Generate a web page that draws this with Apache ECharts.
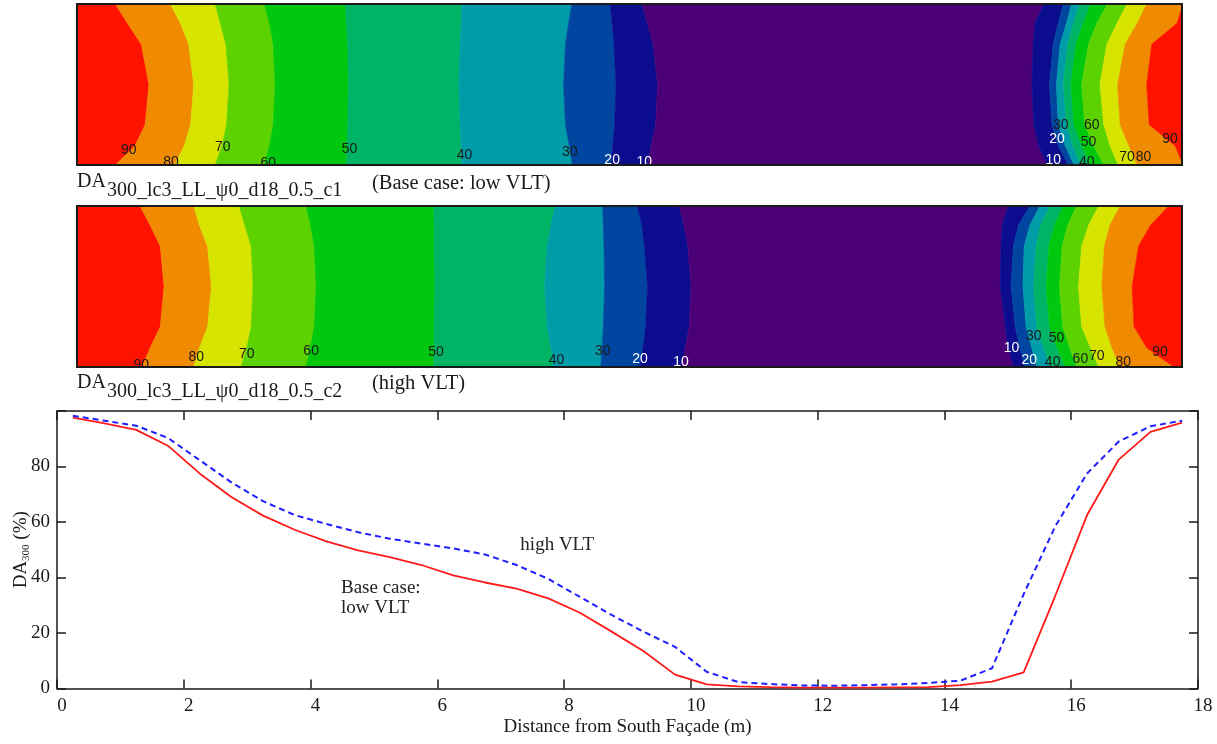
<!DOCTYPE html>
<html>
<head>
<meta charset="utf-8">
<title>DA300 contours and profile</title>
<script src="https://cdn.jsdelivr.net/npm/echarts@6/dist/echarts.min.js"></script>
<style>
  html, body { margin: 0; padding: 0; background: #fff; }
  #chart { width: 1217px; height: 744px; }
</style>
</head>
<body>
<div id="chart"></div>
<script>
// profile along the room (m) and DA300 (%)
const distance = [0.25, 0.75, 1.25, 1.75, 2.25, 2.75, 3.25, 3.75, 4.25, 4.75, 5.25, 5.75,
  6.25, 6.75, 7.25, 7.75, 8.25, 8.75, 9.25, 9.75, 10.25, 10.75, 11.25, 11.75,
  12.25, 12.75, 13.25, 13.75, 14.25, 14.75, 15.25, 15.75, 16.25, 16.75, 17.25, 17.75]
const baseCase = [97.6, 95.5, 93.2, 87.5, 77.5, 69.0, 62.3, 57.2, 53.0, 49.8, 47.3, 44.5,
  40.8, 38.2, 36.0, 32.5, 27.3, 20.5, 13.5, 5.0, 1.5, 0.8, 0.5, 0.3,
  0.3, 0.3, 0.4, 0.5, 1.2, 2.5, 5.8, 33.5, 62.5, 82.5, 92.5, 95.8]
const highVlt = [98.3, 96.5, 94.7, 90.3, 82.3, 74.3, 67.5, 62.5, 59.3, 56.3, 54.0, 52.2,
  50.5, 48.3, 44.5, 39.5, 33.0, 26.5, 20.5, 15.0, 6.0, 2.3, 1.6, 1.1,
  1.0, 1.2, 1.5, 2.0, 2.8, 7.3, 34.0, 58.5, 77.5, 89.0, 94.5, 96.5]

// contour strips: iso-line positions (m) sampled at these depths across the room (0 = top)
const stripRows = [0, 0.12, 0.25, 0.5, 0.75, 0.88, 1]
// band fill from left wall to right wall: >90, 80-90 ... <10 ... 80-90, >90
const bandColors = ['#ff1300', '#f08a00', '#d6e400', '#5cd300', '#00c80e', '#00b466', '#009ca8',
  '#0046a0', '#0c0c8e', '#4b0078', '#0c0c8e', '#0046a0', '#009ca8', '#00b466', '#00c80e',
  '#5cd300', '#d6e400', '#f08a00', '#ff1300']

const c1Bounds = [
  [0.83, 1.02, 1.24, 1.36, 1.30, 1.14, 0.83],
  [1.70, 1.86, 1.99, 2.07, 2.02, 1.92, 1.77],
  [2.41, 2.49, 2.58, 2.63, 2.59, 2.52, 2.41],
  [3.19, 3.27, 3.33, 3.36, 3.33, 3.27, 3.19],
  [4.47, 4.49, 4.51, 4.52, 4.51, 4.50, 4.49],
  [6.32, 6.31, 6.29, 6.27, 6.29, 6.31, 6.32],
  [8.06, 8.01, 7.96, 7.93, 7.96, 8.02, 8.07],
  [8.67, 8.70, 8.73, 8.76, 8.74, 8.71, 8.68],
  [9.17, 9.26, 9.35, 9.42, 9.39, 9.32, 9.26],
  [15.54, 15.40, 15.37, 15.35, 15.38, 15.46, 15.59],
  [15.85, 15.77, 15.69, 15.63, 15.67, 15.77, 15.93],
  [15.98, 15.90, 15.80, 15.74, 15.77, 15.88, 16.02],
  [16.11, 16.01, 15.92, 15.85, 15.90, 16.00, 16.13],
  [16.28, 16.17, 16.05, 15.97, 16.02, 16.14, 16.28],
  [16.55, 16.38, 16.25, 16.14, 16.19, 16.33, 16.49],
  [16.86, 16.70, 16.54, 16.43, 16.49, 16.59, 16.72],
  [17.17, 17.02, 16.83, 16.71, 16.75, 16.89, 17.02],
  [17.75, 17.65, 17.25, 17.17, 17.21, 17.62, 17.75]
]
const c2Bounds = [
  [1.22, 1.38, 1.54, 1.60, 1.54, 1.38, 1.25],
  [2.07, 2.16, 2.29, 2.35, 2.29, 2.16, 2.07],
  [2.79, 2.88, 2.98, 3.01, 2.98, 2.91, 2.82],
  [3.85, 3.92, 3.98, 4.01, 3.98, 3.92, 3.85],
  [5.87, 5.88, 5.88, 5.89, 5.88, 5.88, 5.87],
  [7.80, 7.73, 7.67, 7.63, 7.67, 7.73, 7.77],
  [8.55, 8.56, 8.57, 8.58, 8.56, 8.54, 8.52],
  [9.10, 9.17, 9.21, 9.26, 9.23, 9.19, 9.14],
  [9.76, 9.84, 9.90, 9.95, 9.92, 9.86, 9.79],
  [14.98, 14.88, 14.86, 14.85, 14.93, 14.98, 15.06],
  [15.32, 15.14, 15.06, 15.02, 15.09, 15.16, 15.24],
  [15.48, 15.32, 15.23, 15.21, 15.26, 15.35, 15.43],
  [15.64, 15.49, 15.42, 15.38, 15.43, 15.54, 15.64],
  [15.85, 15.71, 15.62, 15.58, 15.63, 15.75, 15.88],
  [16.06, 15.92, 15.83, 15.79, 15.84, 15.95, 16.06],
  [16.41, 16.25, 16.14, 16.09, 16.14, 16.28, 16.41],
  [16.75, 16.59, 16.50, 16.46, 16.51, 16.62, 16.75],
  [17.52, 17.23, 17.04, 16.94, 16.97, 17.17, 17.60]
]

// contour labels [x, depth, level]
const c1Labels = [[1.04, 0.91, 90], [1.71, 0.98, 80], [2.53, 0.89, 70], [3.25, 0.99, 60],
  [4.54, 0.90, 50], [6.36, 0.94, 40], [8.03, 0.92, 30], [8.70, 0.97, 20], [9.21, 0.98, 10],
  [15.69, 0.97, 10], [15.75, 0.84, 20], [15.81, 0.75, 30], [16.22, 0.98, 40], [16.25, 0.86, 50],
  [16.30, 0.75, 60], [16.86, 0.95, 70], [17.12, 0.95, 80], [17.54, 0.84, 90]]
const c2Labels = [[1.24, 0.99, 90], [2.11, 0.94, 80], [2.91, 0.92, 70], [3.93, 0.90, 60],
  [5.91, 0.91, 50], [7.82, 0.96, 40], [8.55, 0.90, 30], [9.14, 0.95, 20], [9.79, 0.97, 10],
  [15.03, 0.88, 10], [15.31, 0.96, 20], [15.38, 0.81, 30], [15.68, 0.97, 40], [15.74, 0.82, 50],
  [16.12, 0.95, 60], [16.38, 0.93, 70], [16.80, 0.97, 80], [17.38, 0.91, 90]]

// curve annotations [x, DA, text]
const notes = [[7.31, 51.7, 'high VLT'], [4.48, 32.6, 'Base case:\nlow VLT']]

const serif = '"Liberation Serif", "Times New Roman", serif'
const ink = '#1a1a1a'

function bandSeries (idx, bounds) {
  return {
    type: 'custom',
    xAxisIndex: idx,
    yAxisIndex: idx,
    clip: true,
    silent: true,
    data: bandColors.map((c, i) => [i]),
    renderItem (params, api) {
      const i = api.value(0)
      const pts = []
      stripRows.forEach((r, k) => {
        pts.push(api.coord([i === 0 ? 0 : bounds[i - 1][k], r]))
      })
      for (let k = stripRows.length - 1; k >= 0; k--) {
        pts.push(api.coord([i === bounds.length ? 18 : bounds[i][k], stripRows[k]]))
      }
      return {
        type: 'polygon',
        shape: { points: pts },
        style: { fill: bandColors[i], stroke: bandColors[i], lineWidth: 0.6 }
      }
    }
  }
}

function labelSeries (idx, labels) {
  return {
    type: 'custom',
    xAxisIndex: idx,
    yAxisIndex: idx,
    clip: true,
    silent: true,
    z: 4,
    data: labels,
    renderItem (params, api) {
      const p = api.coord([api.value(0), api.value(1)])
      const lv = api.value(2)
      return {
        type: 'text',
        x: p[0],
        y: p[1],
        style: {
          text: String(lv),
          fill: lv <= 20 ? '#ffffff' : '#1a1a1a',
          font: '14px "Liberation Sans", Arial, sans-serif',
          align: 'center',
          verticalAlign: 'middle'
        }
      }
    }
  }
}

const stripGrid = (top) => ({
  left: 77, width: 1105, top: top, height: 161, outerBoundsMode: 'none',
  show: true, borderColor: ink, borderWidth: 2, backgroundColor: 'transparent', z: 10
})
const stripX = (g) => ({ gridIndex: g, type: 'value', min: 0.22, max: 17.73, show: false })
const stripY = (g) => ({ gridIndex: g, type: 'value', min: 0, max: 1, inverse: true, show: false })

const boxLine = { show: true, onZero: false, lineStyle: { color: ink, width: 1.5 } }
const boxTick = { show: true, inside: true, length: 9, lineStyle: { color: ink, width: 1.5 } }

const chart = echarts.init(document.getElementById('chart'))

const option = {
  animation: false,
  backgroundColor: '#ffffff',
  grid: [
    stripGrid(4),
    stripGrid(206),
    { left: 57, width: 1141, top: 411, height: 277.5, outerBoundsMode: 'none' }
  ],
  xAxis: [
    stripX(0),
    stripX(1),
    {
      gridIndex: 2, type: 'value', min: 0, max: 18, interval: 2, position: 'bottom',
      axisLine: boxLine, axisTick: boxTick, splitLine: { show: false },
      axisLabel: { color: ink, fontFamily: serif, fontSize: 19, margin: 8, padding: [0, 0, 0, 10] },
      name: 'Distance from South Façade (m)', nameLocation: 'middle', nameGap: 29,
      nameMoveOverlap: false,
      nameTextStyle: { color: ink, fontFamily: serif, fontSize: 19 }
    },
    {
      gridIndex: 2, type: 'value', min: 0, max: 18, interval: 2, position: 'top',
      axisLine: boxLine, axisTick: boxTick, splitLine: { show: false }, axisLabel: { show: false }
    }
  ],
  yAxis: [
    stripY(0),
    stripY(1),
    {
      gridIndex: 2, type: 'value', min: 0, max: 100, interval: 20, position: 'left',
      axisLine: boxLine, axisTick: boxTick, splitLine: { show: false },
      axisLabel: {
        color: ink, fontFamily: serif, fontSize: 19, margin: 7,
        formatter: v => (v === 100 ? '' : String(v))
      },
      name: '{a|DA}{b|300}{a| (%)}', nameLocation: 'middle', nameGap: 25, nameRotate: 90,
      nameMoveOverlap: false,
      nameTextStyle: {
        rich: {
          a: { fontFamily: serif, fontSize: 19, color: ink, lineHeight: 22, verticalAlign: 'middle' },
          b: { fontFamily: serif, fontSize: 11, color: ink, lineHeight: 11, verticalAlign: 'bottom' }
        }
      }
    },
    {
      gridIndex: 2, type: 'value', min: 0, max: 100, interval: 20, position: 'right',
      axisLine: boxLine, axisTick: boxTick, splitLine: { show: false }, axisLabel: { show: false }
    }
  ],
  graphic: [
    { type: 'text', left: 77, top: 172, style: { text: 'DA', font: '20px ' + serif, fill: ink } },
    { type: 'text', left: 107, top: 181, style: { text: '300_lc3_LL_ψ0_d18_0.5_c1', font: '20px ' + serif, fill: ink } },
    { type: 'text', left: 372, top: 173, style: { text: '(Base case: low VLT)', font: '20.5px ' + serif, fill: ink } },
    { type: 'text', left: 77, top: 373, style: { text: 'DA', font: '20px ' + serif, fill: ink } },
    { type: 'text', left: 107, top: 382, style: { text: '300_lc3_LL_ψ0_d18_0.5_c2', font: '20px ' + serif, fill: ink } },
    { type: 'text', left: 372, top: 373, style: { text: '(high VLT)', font: '20.5px ' + serif, fill: ink } }
  ],
  series: [
    bandSeries(0, c1Bounds),
    labelSeries(0, c1Labels),
    bandSeries(1, c2Bounds),
    labelSeries(1, c2Labels),
    {
      name: 'Base case: low VLT',
      type: 'line',
      xAxisIndex: 2,
      yAxisIndex: 2,
      showSymbol: false,
      data: distance.map((d, i) => [d, baseCase[i]]),
      lineStyle: { color: '#ff1a1a', width: 1.8 }
    },
    {
      name: 'high VLT',
      type: 'line',
      xAxisIndex: 2,
      yAxisIndex: 2,
      showSymbol: false,
      data: distance.map((d, i) => [d, highVlt[i]]),
      lineStyle: { color: '#1f1fff', width: 2, type: [6, 4] }
    },
    {
      type: 'custom',
      xAxisIndex: 2,
      yAxisIndex: 2,
      silent: true,
      data: notes,
      renderItem (params, api) {
        const p = api.coord([api.value(0), api.value(1)])
        return {
          type: 'text',
          x: p[0],
          y: p[1],
          style: {
            text: notes[params.dataIndex][2],
            fill: '#222',
            font: '19px ' + serif,
            lineHeight: 20,
            align: 'left',
            verticalAlign: 'middle'
          }
        }
      }
    }
  ]
}

chart.setOption(option)
</script>
</body>
</html>
